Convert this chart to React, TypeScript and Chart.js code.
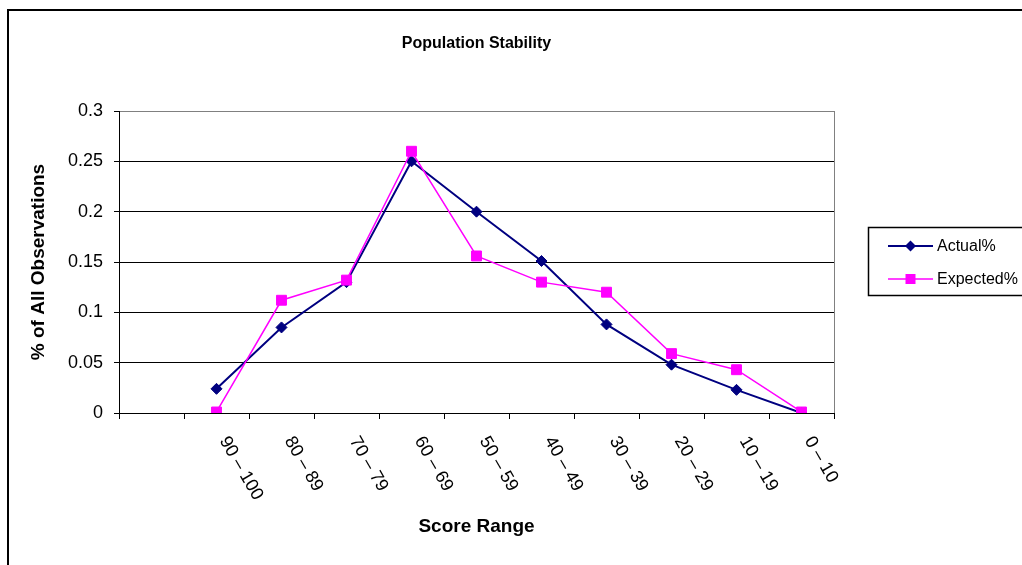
import React, { useEffect, useRef } from 'react';
import { Chart, registerables } from 'chart.js';

Chart.register(...registerables);

const categories = ['', '90 – 100', '80 – 89', '70 – 79', '60 – 69', '50 – 59', '40 – 49', '30 – 39', '20 – 29', '10 – 19', '0 – 10'];
const actualPct = [null, 0.024, 0.085, 0.13, 0.25, 0.2, 0.151, 0.088, 0.048, 0.023, 0.0];
const expectedPct = [null, 0.001, 0.112, 0.132, 0.26, 0.156, 0.13, 0.12, 0.059, 0.043, 0.001];
const yTickLabels = ['0', '0.05', '0.1', '0.15', '0.2', '0.25', '0.3'];
const seriesNames = ['Actual%', 'Expected%'];
const chartTitle = 'Population Stability';
const xTitle = 'Score Range';
const yTitle = '% of All Observations';

const FONT = '"Liberation Sans", Arial, sans-serif';
const NAVY = '#000080';
const MAGENTA = '#FF00FF';

const decorPlugin = {
  id: 'decor',
  beforeDraw(chart: any) {
    const { ctx } = chart;
    ctx.save();
    ctx.fillStyle = '#ffffff';
    ctx.fillRect(0, 0, chart.width, chart.height);
    ctx.restore();
  },
  afterDraw(chart: any) {
    const { ctx, chartArea, scales } = chart;
    ctx.save();
    // outer chart border
    ctx.strokeStyle = '#000';
    ctx.lineWidth = 2;
    ctx.strokeRect(8, 10, chart.width + 40, chart.height + 40);
    // right plot-area border
    ctx.strokeStyle = '#808080';
    ctx.lineWidth = 1;
    const rx = Math.round(chartArea.right) + 0.5;
    ctx.beginPath();
    ctx.moveTo(rx, chartArea.top);
    ctx.lineTo(rx, chartArea.bottom);
    ctx.stroke();
    // title
    ctx.fillStyle = '#000';
    ctx.font = 'bold 16px ' + FONT;
    ctx.textAlign = 'center';
    ctx.textBaseline = 'middle';
    ctx.fillText(chartTitle, (chartArea.left + chartArea.right) / 2, 44);
    // rotated category labels
    ctx.font = '18px ' + FONT;
    ctx.textAlign = 'left';
    ctx.textBaseline = 'middle';
    categories.forEach((c, i) => {
      if (!c) return;
      const x = scales.x.getPixelForValue(i);
      ctx.save();
      ctx.translate(x + 7, chartArea.bottom + 25);
      ctx.rotate(Math.PI / 3);
      ctx.fillText(c, 0, 0);
      ctx.restore();
    });
    // legend
    const lx = 868.5, ly = 227.5;
    ctx.strokeStyle = '#000';
    ctx.lineWidth = 1.5;
    ctx.strokeRect(lx, ly, 300, 68);
    const rows = [
      { name: seriesNames[0], color: NAVY, y: 246, shape: 'diamond', lw: 2 },
      { name: seriesNames[1], color: MAGENTA, y: 279, shape: 'square', lw: 1.5 },
    ];
    rows.forEach((r) => {
      ctx.strokeStyle = r.color;
      ctx.fillStyle = r.color;
      ctx.lineWidth = r.lw;
      ctx.beginPath();
      ctx.moveTo(888, r.y);
      ctx.lineTo(933, r.y);
      ctx.stroke();
      const cx = 910.5;
      ctx.beginPath();
      if (r.shape === 'diamond') {
        ctx.moveTo(cx - 5.5, r.y);
        ctx.lineTo(cx, r.y - 5.5);
        ctx.lineTo(cx + 5.5, r.y);
        ctx.lineTo(cx, r.y + 5.5);
        ctx.closePath();
      } else {
        ctx.rect(cx - 5, r.y - 5, 10, 10);
      }
      ctx.fill();
      ctx.fillStyle = '#000';
      ctx.font = '16px ' + FONT;
      ctx.textAlign = 'left';
      ctx.textBaseline = 'middle';
      ctx.fillText(r.name, 937, r.y + 1);
    });
    ctx.restore();
  },
};

export default function App() {
  const ref = useRef<HTMLCanvasElement>(null);
  useEffect(() => {
    const chart = new Chart(ref.current as HTMLCanvasElement, {
      type: 'line',
      data: {
        labels: categories,
        datasets: [
          {
            label: seriesNames[0],
            data: actualPct,
            borderColor: NAVY,
            backgroundColor: NAVY,
            borderWidth: 2,
            pointStyle: 'rectRot',
            pointRadius: 5.5,
            pointBorderWidth: 1,
            pointBackgroundColor: NAVY,
            pointBorderColor: NAVY,
            tension: 0,
            order: 2,
          },
          {
            label: seriesNames[1],
            data: expectedPct,
            borderColor: MAGENTA,
            backgroundColor: MAGENTA,
            borderWidth: 1.5,
            pointStyle: 'rect',
            pointRadius: 7,
            pointBorderWidth: 1,
            pointBackgroundColor: MAGENTA,
            pointBorderColor: MAGENTA,
            tension: 0,
            order: 1,
          },
        ],
      },
      options: {
        animation: false,
        responsive: false,
        devicePixelRatio: 1,
        layout: { padding: { left: 10, top: 111, right: 188, bottom: 0 } },
        plugins: {
          legend: { display: false },
          title: { display: false },
          tooltip: { enabled: false },
        },
        scales: {
          x: {
            type: 'category',
            offset: true,
            grid: {
              display: true,
              offset: true,
              drawOnChartArea: false,
              drawTicks: true,
              tickLength: 6,
              color: '#000',
            },
            border: { display: true, color: '#000', width: 1 },
            ticks: { display: false },
            title: {
              display: true,
              text: xTitle,
              color: '#000',
              font: { family: FONT, size: 19, weight: 'bold' },
              padding: { top: 0, bottom: 26.5 },
            },
            afterFit: (scale: any) => {
              scale.height = 152;
            },
          },
          y: {
            min: 0,
            max: 0.3,
            ticks: {
              stepSize: 0.05,
              color: '#000',
              padding: 11,
              font: { family: FONT, size: 18 },
              callback: (_v: any, i: number) => yTickLabels[i],
            },
            grid: {
              color: (c: any) => (c.tick && c.tick.value > 0.29 ? '#808080' : '#000'),
              tickColor: '#000',
              lineWidth: 1,
              drawTicks: true,
              tickLength: 5,
            },
            border: { display: true, color: '#000', width: 1 },
            title: {
              display: true,
              text: yTitle,
              color: '#000',
              font: { family: FONT, size: 19, weight: 'bold' },
              padding: { top: 17.5, bottom: 0 },
            },
            afterFit: (scale: any) => {
              scale.width = 109;
            },
          },
        },
      },
      plugins: [decorPlugin],
    } as any);
    return () => chart.destroy();
  }, []);
  return (
    <div style={{ position: 'fixed', left: 0, top: 0, width: 1022, height: 565, background: '#fff', overflow: 'hidden' }}>
      <canvas ref={ref} width={1022} height={565} style={{ display: 'block', width: 1022, height: 565 }} />
    </div>
  );
}
